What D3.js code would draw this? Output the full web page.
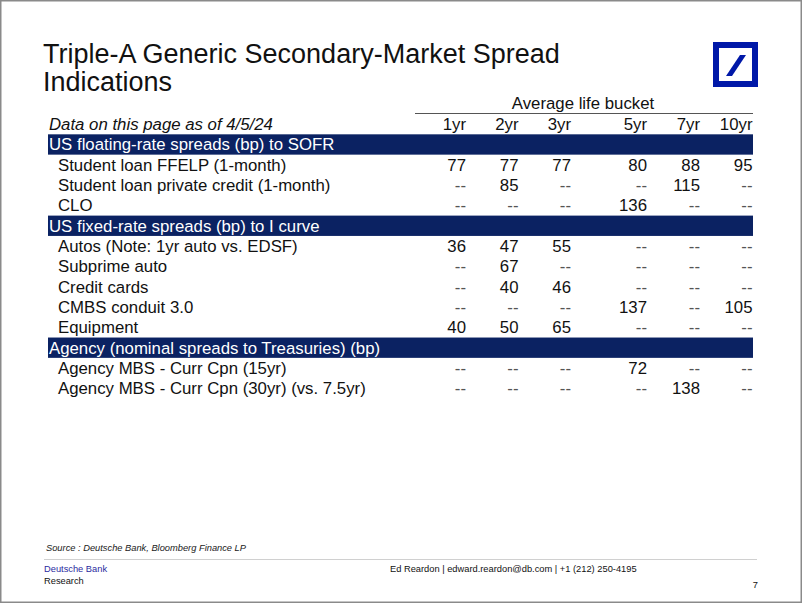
<!DOCTYPE html>
<html><head><meta charset="utf-8">
<script src="https://cdn.jsdelivr.net/npm/d3@7"></script>
<style>
body{margin:0;background:#fff;}
svg{display:block;font-family:"Liberation Sans",Arial,sans-serif;}
</style></head>
<body><svg id="c" width="802" height="603"></svg>
<script>
// ---- data ----
const titleLines = ["Triple-A Generic Secondary-Market Spread", "Indications"];
const bucketTitle = "Average life bucket";
const asOfLabel = "Data on this page as of 4/5/24";
const columns = ["1yr", "2yr", "3yr", "5yr", "7yr", "10yr"];
const sections = [
  "US floating-rate spreads (bp) to SOFR",
  "US fixed-rate spreads (bp) to I curve",
  "Agency (nominal spreads to Treasuries) (bp)"
];
const rowLabels = [
  "Student loan FFELP (1-month)",
  "Student loan private credit (1-month)",
  "CLO",
  "Autos (Note: 1yr auto vs. EDSF)",
  "Subprime auto",
  "Credit cards",
  "CMBS conduit 3.0",
  "Equipment",
  "Agency MBS - Curr Cpn (15yr)",
  "Agency MBS - Curr Cpn (30yr) (vs. 7.5yr)"
];
const rowSection = [0, 0, 0, 1, 1, 1, 1, 1, 2, 2];
const values = [
  [77, 77, 77, 80, 88, 95],
  [null, 85, null, null, 115, null],
  [null, null, null, 136, null, null],
  [36, 47, 55, null, null, null],
  [null, 67, null, null, null, null],
  [null, 40, 46, null, null, null],
  [null, null, null, 137, null, 105],
  [40, 50, 65, null, null, null],
  [null, null, null, 72, null, null],
  [null, null, null, null, 138, null]
];
const sourceText = "Source : Deutsche Bank, Bloomberg Finance LP";
const footerLeft = ["Deutsche Bank", "Research"];
const footerContact = "Ed Reardon | edward.reardon@db.com | +1 (212) 250-4195";
const pageNumber = "7";

// ---- layout ----
const svg = d3.select("#c");
const W = 802, H = 603;
const navy = "#0b2262";
const fs = 16.8;

svg.append("rect").attr("x", 0.75).attr("y", 0.75).attr("width", W - 1.5).attr("height", H - 1.5)
  .attr("fill", "#fff").attr("stroke", "#8a8a8a").attr("stroke-width", 1.5);

// title
svg.append("g").selectAll("text").data(titleLines).join("text")
  .attr("x", 43).attr("y", (d, i) => 63 + i * 27.5)
  .attr("font-size", 27).attr("fill", "#111").text(d => d);

// logo
const logo = svg.append("g").attr("transform", "translate(713,42)");
logo.append("rect").attr("x", 3).attr("y", 3).attr("width", 39).attr("height", 39)
  .attr("fill", "none").attr("stroke", "#0018a8").attr("stroke-width", 6);
logo.append("path").attr("d", "M13,34 L19,34 L33,13 L27,13 Z").attr("fill", "#0018a8");

// build row list (sections interleaved)
const rows = [{type: "header", key: "hdr"}];
sections.forEach((s, si) => {
  rows.push({type: "section", key: "s" + si, label: s});
  rowLabels.forEach((r, ri) => {
    if (rowSection[ri] === si) rows.push({type: "data", key: "r" + ri, label: r, vals: values[ri]});
  });
});

const y = d3.scaleBand().domain(rows.map(d => d.key)).range([114, 398.5]).paddingInner(0);
const colRight = d3.scaleOrdinal().domain(columns).range([466, 518.5, 571, 647, 700, 752.5]);
const tableLeft = 48, tableRight = 753;

// average life bucket
svg.append("text").attr("x", 583).attr("y", 108.5).attr("text-anchor", "middle")
  .attr("font-size", fs).attr("fill", "#111").text(bucketTitle);
svg.append("line").attr("x1", 415).attr("x2", tableRight).attr("y1", 113.5).attr("y2", 113.5)
  .attr("stroke", "#555").attr("stroke-width", 1);

const base = d => y(d.key) + y.bandwidth() / 2 + 6;

// section bars
const secRows = rows.filter(d => d.type === "section");
svg.append("g").selectAll("rect").data(secRows).join("rect")
  .attr("x", tableLeft).attr("width", tableRight - tableLeft)
  .attr("y", d => y(d.key)).attr("height", y.bandwidth())
  .attr("fill", navy);
svg.append("g").selectAll("text").data(secRows).join("text")
  .attr("x", 49).attr("y", base).attr("font-size", fs).attr("fill", "#fff").text(d => d.label);

// header row
const hdr = rows[0];
svg.append("text").attr("x", 49).attr("y", base(hdr)).attr("font-size", fs)
  .attr("font-style", "italic").attr("fill", "#111").text(asOfLabel);
svg.append("g").selectAll("text").data(columns).join("text")
  .attr("x", d => colRight(d)).attr("y", base(hdr)).attr("text-anchor", "end")
  .attr("font-size", fs).attr("fill", "#111").text(d => d);

// data rows
const dataRows = rows.filter(d => d.type === "data");
const rg = svg.append("g").selectAll("g").data(dataRows).join("g");
rg.append("text").attr("x", 58).attr("y", base).attr("font-size", fs).attr("fill", "#111").text(d => d.label);
rg.selectAll("text.v").data(d => d.vals.map((v, i) => ({v, c: columns[i], r: d}))).join("text")
  .attr("class", "v")
  .attr("x", d => colRight(d.c)).attr("y", d => base(d.r)).attr("text-anchor", "end")
  .attr("font-size", fs).attr("fill", d => d.v == null ? "#555" : "#111")
  .text(d => d.v == null ? "--" : d.v);

// source
svg.append("text").attr("x", 46).attr("y", 551).attr("font-size", 9.3).attr("font-style", "italic")
  .attr("fill", "#222").text(sourceText);
svg.append("line").attr("x1", 44).attr("x2", 757).attr("y1", 559.5).attr("y2", 559.5)
  .attr("stroke", "#d0d0d0").attr("stroke-width", 1);

// footer
svg.append("text").attr("x", 44).attr("y", 572).attr("font-size", 9.3).attr("fill", "#2b2ba0").text(footerLeft[0]);
svg.append("text").attr("x", 44).attr("y", 584).attr("font-size", 9.3).attr("fill", "#111").text(footerLeft[1]);
svg.append("text").attr("x", 390).attr("y", 572).attr("font-size", 9.3).attr("fill", "#111").text(footerContact);
svg.append("text").attr("x", 758).attr("y", 588).attr("text-anchor", "end").attr("font-size", 9.3).attr("fill", "#111").text(pageNumber);
</script></body></html>
